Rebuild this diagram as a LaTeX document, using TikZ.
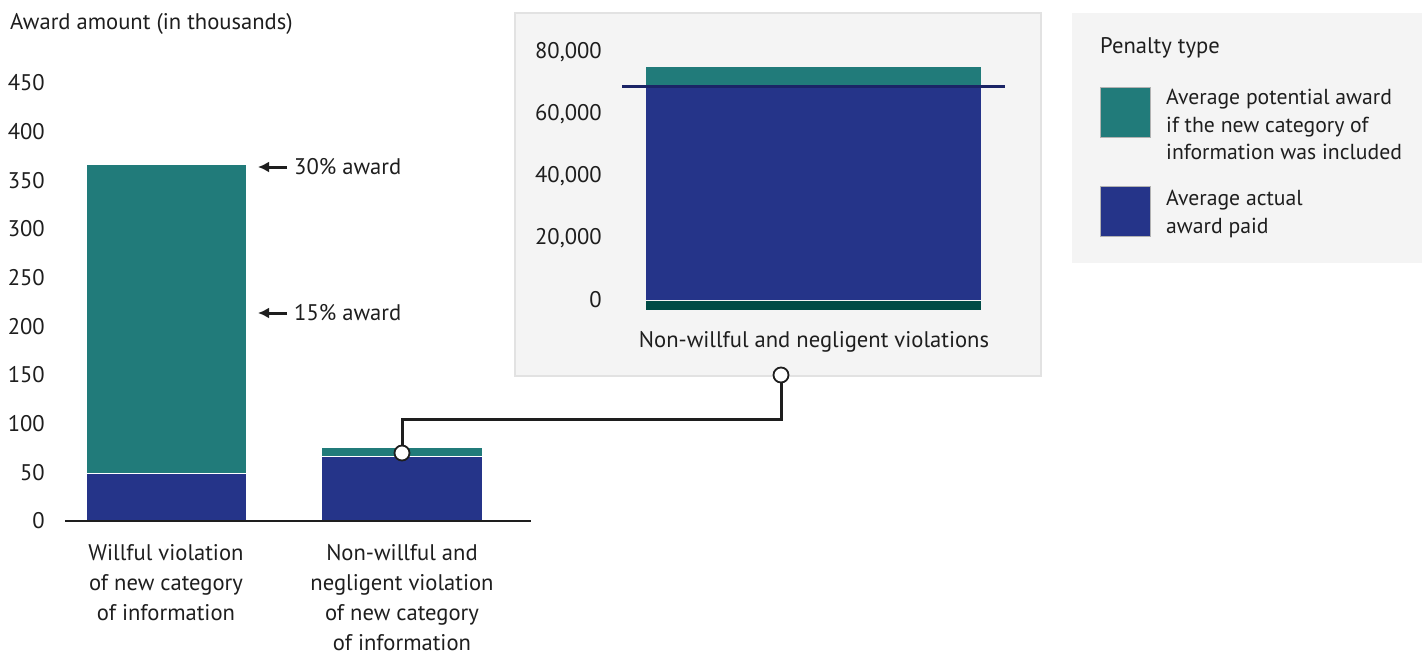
\documentclass[tikz,border=0pt]{standalone}
\usepackage{fontspec}
\setmainfont{PT Sans}
\usetikzlibrary{positioning, calc, arrows.meta}
\definecolor{AwardTeal}{HTML}{217B7A}
\definecolor{AwardBlue}{HTML}{253489}
\definecolor{DeepPine}{HTML}{004B46}
\definecolor{NavyRule}{HTML}{1B2466}
\definecolor{PanelGray}{HTML}{F4F4F4}
\definecolor{PanelEdge}{HTML}{E2E2E2}
\definecolor{InkBlack}{HTML}{1E1E1E}

\tikzset{
  lbl/.style={font=\fontsize{22.6}{30}\selectfont, inner sep=0pt, text=InkBlack},
  keytext/.style={lbl, font=\fontsize{21.7}{27.5}\selectfont, align=left, anchor=north west},
  catlabel/.style={lbl, align=center, anchor=north},
  swatch/.style={minimum size=50pt, inner sep=0pt, draw=white!70!black, line width=0.3pt},
  pointer/.style={-{Latex[length=11pt, width=11pt]}, line width=3pt, InkBlack},
  pin/.style={circle, draw=InkBlack, fill=white, line width=1.8pt, minimum size=15pt, inner sep=0pt}
}

\begin{document}
\begin{tikzpicture}[x=1pt, y=-1pt]
  \useasboundingbox (0,0) rectangle (1427,654);

  % main chart
  \node[lbl, anchor=west] (ytitle) at (10,24) {Award amount (in thousands)};
  \foreach \v [count=\i from 0] in {0,50,...,450}
    \node[lbl, anchor=east] (ytick\i) at (45, {521-0.9733*\v}) {\v};

  \fill[AwardBlue] (87,521) rectangle (246,473.5);
  \fill[AwardTeal] (87,472.5) rectangle (246,165);
  \fill[AwardBlue] (322,521) rectangle (482,456.5);
  \fill[AwardTeal] (322,455.5) rectangle (482,448);
  \draw[line width=2pt, InkBlack] (65,521) -- (531,521);

  \coordinate (tip30) at (258,167);
  \coordinate (tip15) at (258,313);
  \node[lbl, anchor=west, inner xsep=7pt] (award30) at (287,167) {30\% award};
  \node[lbl, anchor=west, inner xsep=7pt] (award15) at (287,313) {15\% award};
  \draw[pointer] (award30) -- (tip30);
  \draw[pointer] (award15) -- (tip15);

  \node[catlabel] (willful) at (166,544) {Willful violation\\of new category\\of information};
  \node[catlabel] (negligent) at (402,544) {Non-willful and\\negligent violation\\of new category\\of information};

  % inset (values in thousands)
  \filldraw[fill=PanelGray, draw=PanelEdge, line width=1.5pt] (515,13) rectangle (1041,376);
  \foreach \v/\t [count=\i] in {0/0, 20/{20,000}, 40/{40,000}, 60/{60,000}, 80/{80,000}}
    \node[lbl, anchor=east] (itick\i) at (602, {300-3.1*\v}) {\t};
  \fill[DeepPine] (646,300.5) rectangle (981,310);
  \fill[AwardBlue] (646,299.5) rectangle (981,86);
  \fill[AwardTeal] (646,86) rectangle (981,67);
  \draw[NavyRule, line width=3pt] (622,86.5) -- (1005,86.5);
  \node[lbl] (insetcat) at (814,342) {Non-willful and negligent violations};

  % connector
  \node[pin] (pinbar) at (402,453) {};
  \node[pin] (pinbox) at (781,375) {};
  \coordinate (bend) at (402,419);
  \draw[InkBlack, line width=3pt] (pinbar) -- (bend) -| (pinbox);

  % legend
  \fill[PanelGray] (1072,13) rectangle (1422,263);
  \node[lbl, anchor=west] (keytitle) at (1100,48) {Penalty type};
  \node[swatch, fill=AwardTeal] (keyteal) at (1125,112) {};
  \node[swatch, fill=AwardBlue] (keyblue) at (1125,211) {};
  \node[keytext] (keytealtext) at (1166,89) {Average potential award\\if the new category of\\information was included};
  \node[keytext] (keybluetext) at (1166,190) {Average actual\\award paid};
\end{tikzpicture}
\end{document}
